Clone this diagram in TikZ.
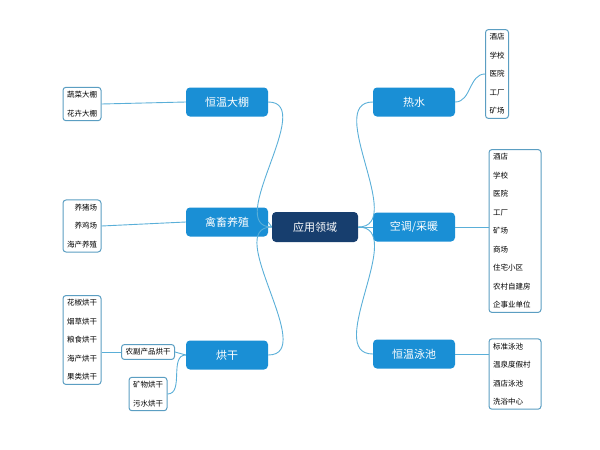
\documentclass[tikz,border=0pt]{standalone}
\usepackage{fontspec}
\newfontfamily\cjk{Noto Sans CJK SC}
\definecolor{navy}{HTML}{173E6E}
\definecolor{branchblue}{HTML}{1A8FD5}
\definecolor{linkblue}{HTML}{5AAFD8}
\definecolor{listline}{HTML}{5B9EC2}
\tikzset{
  root/.style={rectangle, rounded corners=4pt, fill=navy, text=white, minimum width=86pt, minimum height=30pt, font=\cjk\fontsize{11}{13}\selectfont},
  branch/.style={rectangle, rounded corners=4pt, fill=branchblue, text=white, minimum width=82pt, minimum height=29pt, font=\cjk\fontsize{11}{13}\selectfont},
  leaf/.style={rectangle, rounded corners=3pt, draw=listline, line width=1pt, fill=white, inner sep=4pt, font=\cjk\fontsize{7.5}{18.5}\selectfont},
  link/.style={draw=linkblue, line width=0.9pt},
}
\begin{document}
\begin{tikzpicture}[x=1pt,y=-1pt]
\useasboundingbox (0,0) rectangle (600,450);
\node[root] (root) at (315,227) {应用领域};
\node[branch] (dapeng) at (227,102) {恒温大棚};
\node[branch] (yangzhi) at (227,222) {禽畜养殖};
\node[branch] (honggan) at (227,355) {烘干};
\node[branch] (reshui) at (414,102) {热水};
\node[branch] (kongtiao) at (414,227) {空调/采暖};
\node[branch] (yongchi) at (414,354) {恒温泳池};
% lists
\node[leaf, align=left] (dapengL) at (82,104) {蔬菜大棚\\花卉大棚};
\node[leaf, align=right] (yangzhiL) at (82,226) {养猪场\\养鸡场\\海产养殖};
\node[leaf, align=left] (hongganL) at (82,340) {花椒烘干\\烟草烘干\\粮食烘干\\海产烘干\\果类烘干};
\node[leaf] (nongfu) at (148,352) {农副产品烘干};
\node[leaf, align=right] (kuangwu) at (148,394) {矿物烘干\\污水烘干};
\node[leaf, align=left] (reshuiL) at (497,74) {酒店\\学校\\医院\\工厂\\矿场};
\node[leaf, align=left, text width=44pt] (kongtiaoL) at (515,231) {酒店\\学校\\医院\\工厂\\矿场\\商场\\住宅小区\\农村自建房\\企事业单位};
\node[leaf, align=left, text width=44pt] (yongchiL) at (515,374) {标准泳池\\温泉度假村\\酒店泳池\\洗浴中心};
% root links
\path[link] (root.west) to[out=180,in=0] (dapeng.east);
\path[link] (root.west) -- (yangzhi.east);
\path[link] (root.west) to[out=180,in=0] (honggan.east);
\path[link] (root.east) to[out=0,in=180] (reshui.west);
\path[link] (root.east) -- (kongtiao.west);
\path[link] (root.east) to[out=0,in=180] (yongchi.west);
% list links
\path[link] (dapeng.west) -- (dapengL.east);
\path[link] (yangzhi.west) -- (yangzhiL.east);
\path[link] (honggan.west) -- (nongfu.east);
\path[link] (honggan.west) to[out=180,in=0] (kuangwu.east);
\path[link] (nongfu.west) -- (hongganL.east |- nongfu.west);
\path[link] (reshui.east) to[out=0,in=180] (reshuiL.west);
\path[link] (kongtiao.east) -- (kongtiaoL.west |- kongtiao.east);
\path[link] (yongchi.east) -- (yongchiL.west |- yongchi.east);
\end{tikzpicture}
\end{document}
